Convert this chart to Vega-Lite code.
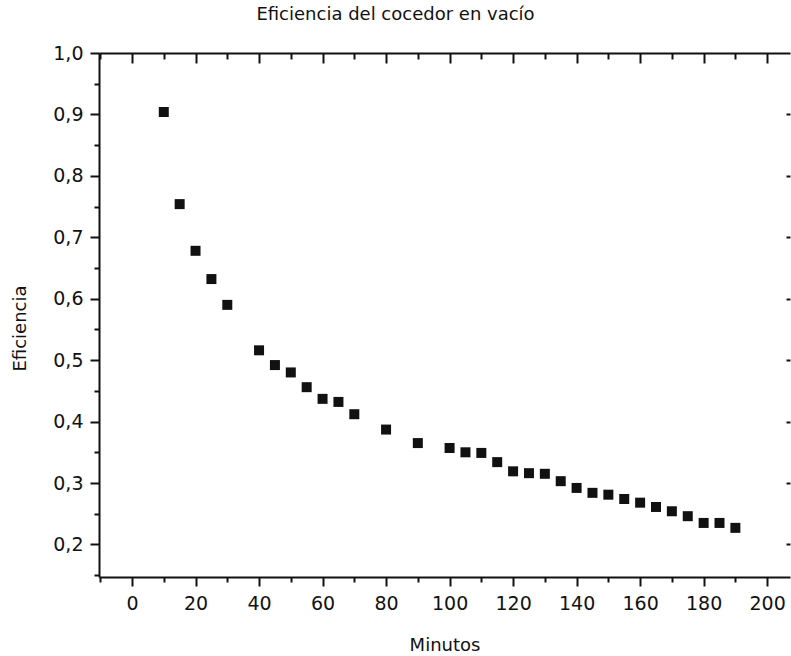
{
  "$schema": "https://vega.github.io/schema/vega-lite/v6.json",
  "autosize": "none",
  "width": 691,
  "height": 524,
  "padding": {"left": 99, "top": 53, "right": 1, "bottom": 79},
  "background": "white",
  "title": {
    "text": "Eficiencia del cocedor en vacío",
    "anchor": "middle",
    "dx": -49,
    "offset": 20,
    "font": "DejaVu Sans",
    "fontSize": 18,
    "fontWeight": "normal",
    "color": "#111111"
  },
  "config": {
    "view": {"stroke": null},
    "axis": {
      "grid": false,
      "domainColor": "#111111",
      "domainWidth": 2,
      "tickColor": "#111111",
      "tickWidth": 2,
      "labelFont": "DejaVu Sans",
      "labelFontSize": 19,
      "labelColor": "#111111",
      "titleFont": "DejaVu Sans",
      "titleFontSize": 18,
      "titleFontWeight": "normal",
      "titleColor": "#111111",
      "labelOverlap": false,
      "labelFlush": false
    }
  },
  "data": {
    "values": [
      {"minutos": 10, "eficiencia": 0.904},
      {"minutos": 15, "eficiencia": 0.754},
      {"minutos": 20, "eficiencia": 0.678},
      {"minutos": 25, "eficiencia": 0.632},
      {"minutos": 30, "eficiencia": 0.590},
      {"minutos": 40, "eficiencia": 0.516},
      {"minutos": 45, "eficiencia": 0.492},
      {"minutos": 50, "eficiencia": 0.480},
      {"minutos": 55, "eficiencia": 0.456},
      {"minutos": 60, "eficiencia": 0.437},
      {"minutos": 65, "eficiencia": 0.432},
      {"minutos": 70, "eficiencia": 0.412},
      {"minutos": 80, "eficiencia": 0.387},
      {"minutos": 90, "eficiencia": 0.365},
      {"minutos": 100, "eficiencia": 0.357},
      {"minutos": 105, "eficiencia": 0.350},
      {"minutos": 110, "eficiencia": 0.349},
      {"minutos": 115, "eficiencia": 0.334},
      {"minutos": 120, "eficiencia": 0.319},
      {"minutos": 125, "eficiencia": 0.316},
      {"minutos": 130, "eficiencia": 0.315},
      {"minutos": 135, "eficiencia": 0.303},
      {"minutos": 140, "eficiencia": 0.292},
      {"minutos": 145, "eficiencia": 0.284},
      {"minutos": 150, "eficiencia": 0.281},
      {"minutos": 155, "eficiencia": 0.274},
      {"minutos": 160, "eficiencia": 0.268},
      {"minutos": 165, "eficiencia": 0.261},
      {"minutos": 170, "eficiencia": 0.254},
      {"minutos": 175, "eficiencia": 0.246},
      {"minutos": 180, "eficiencia": 0.235},
      {"minutos": 185, "eficiencia": 0.235},
      {"minutos": 190, "eficiencia": 0.227}
    ]
  },
  "resolve": {"axis": {"x": "independent", "y": "independent"}},
  "layer": [
    {
      "mark": {"type": "point", "shape": "square", "filled": true, "size": 100, "color": "#111111", "opacity": 1},
      "encoding": {
        "x": {
          "field": "minutos",
          "type": "quantitative",
          "scale": {"domain": [-10.4, 207.2], "nice": false, "zero": false},
          "axis": {
            "orient": "bottom",
            "title": "Minutos",
            "values": [-10, 0, 10, 20, 30, 40, 50, 60, 70, 80, 90, 100, 110, 120, 130, 140, 150, 160, 170, 180, 190, 200],
            "labelExpr": "datum.value % 20 === 0 ? datum.label : ''",
            "tickSize": {"condition": {"test": "datum.value % 20 === 0", "value": 9}, "value": 5},
            "labelPadding": 8,
            "titleBaseline": "middle",
            "titleY": 68
          }
        },
        "y": {
          "field": "eficiencia",
          "type": "quantitative",
          "scale": {"domain": [0.147, 1.0], "nice": false, "zero": false},
          "axis": {
            "orient": "left",
            "title": "Eficiencia",
            "values": [0.15, 0.2, 0.25, 0.3, 0.35, 0.4, 0.45, 0.5, 0.55, 0.6, 0.65, 0.7, 0.75, 0.8, 0.85, 0.9, 0.95, 1.0],
            "labelExpr": "abs(datum.value * 10 - round(datum.value * 10)) < 0.001 ? replace(format(datum.value, '.1f'), '.', ',') : ''",
            "tickSize": {"condition": {"test": "abs(datum.value * 10 - round(datum.value * 10)) < 0.001", "value": 9}, "value": 5},
            "labelPadding": 7,
            "titleAngle": -90,
            "titleAlign": "center",
            "titleBaseline": "middle",
            "titleX": -79,
            "titleY": 275
          }
        }
      }
    },
    {
      "mark": {"type": "point", "shape": "square", "filled": true, "size": 100, "opacity": 0},
      "encoding": {
        "x": {
          "field": "minutos",
          "type": "quantitative",
          "axis": {
            "orient": "top",
            "title": null,
            "labels": false,
            "values": [-10, 0, 10, 20, 30, 40, 50, 60, 70, 80, 90, 100, 110, 120, 130, 140, 150, 160, 170, 180, 190, 200],
            "tickSize": {"condition": {"test": "datum.value % 20 === 0", "value": -10}, "value": -6}
          }
        },
        "y": {
          "field": "eficiencia",
          "type": "quantitative",
          "axis": {
            "orient": "right",
            "title": null,
            "labels": false,
            "domain": false,
            "values": [0.2, 0.3, 0.4, 0.5, 0.6, 0.7, 0.8, 0.9],
            "tickSize": -4
          }
        }
      }
    }
  ]
}
